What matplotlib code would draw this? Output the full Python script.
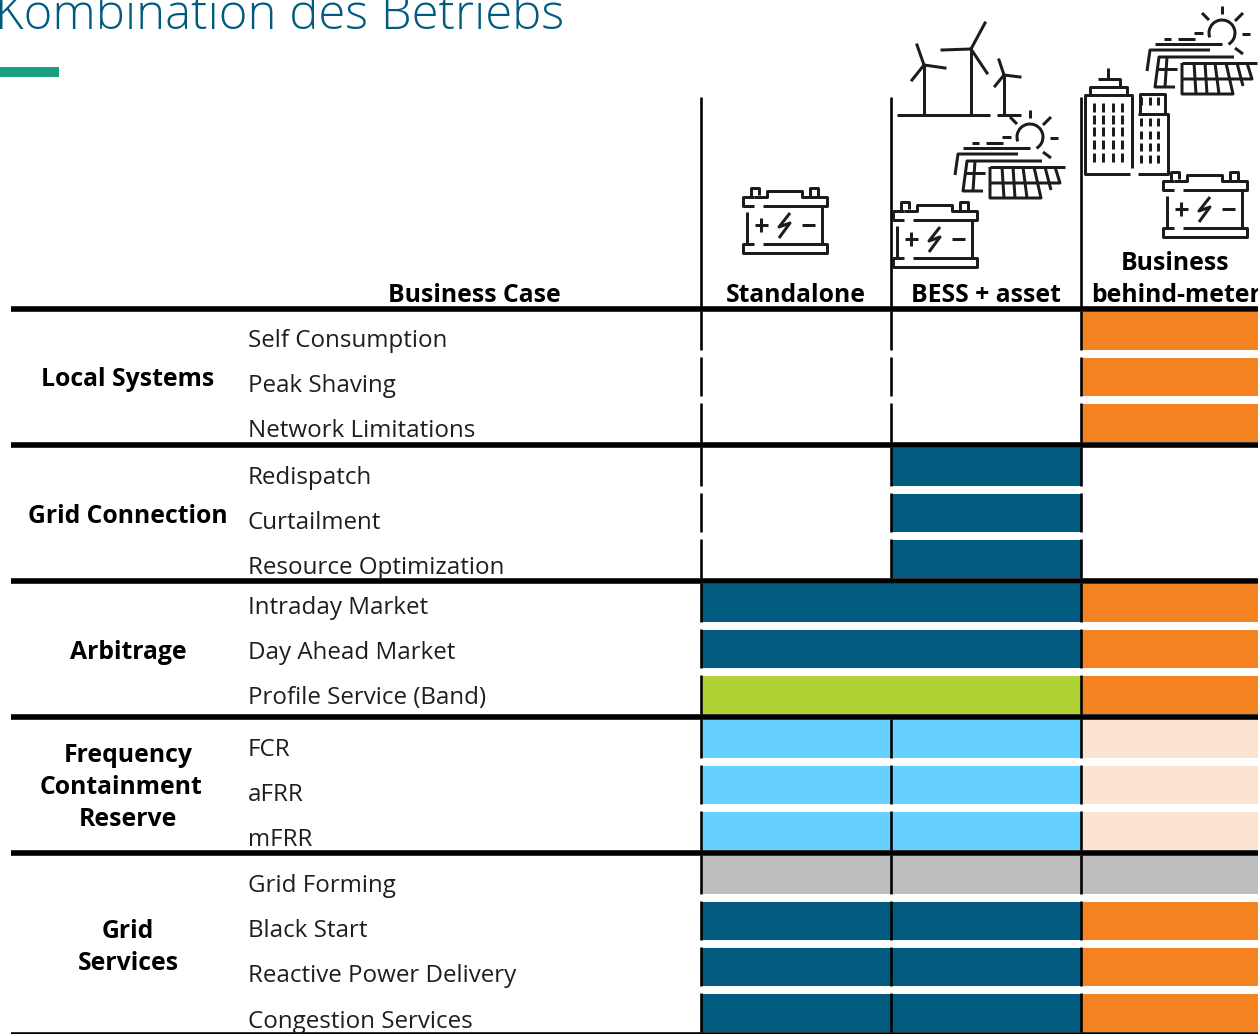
import matplotlib
matplotlib.use('Agg')
import matplotlib.pyplot as plt
from matplotlib.patches import Arc

plt.rcParams['font.family'] = ['Open Sans', 'Noto Sans', 'DejaVu Sans']

# Colores
BLUE = '#005b7f'
ORANGE = '#f58220'
GREEN = '#b1d235'
SKY = '#66d0ff'
PEACH = '#fde4d0'
GREY = '#bebebe'
NONE = None

# Datos de la tabla
columns = ['Standalone', 'BESS + asset']
last_column = ['Business', 'behind-meter']
groups = [['Local Systems'], ['Grid Connection'], ['Arbitrage'],
          ['Frequency', 'Containment', 'Reserve'], ['Grid', 'Services']]
group_rows = [
    ['Self Consumption', 'Peak Shaving', 'Network Limitations'],
    ['Redispatch', 'Curtailment', 'Resource Optimization'],
    ['Intraday Market', 'Day Ahead Market', 'Profile Service (Band)'],
    ['FCR', 'aFRR', 'mFRR'],
    ['Grid Forming', 'Black Start', 'Reactive Power Delivery', 'Congestion Services'],
]
group_colors = [
    [[NONE, NONE, ORANGE]] * 3,
    [[NONE, BLUE, NONE]] * 3,
    [[BLUE, BLUE, ORANGE], [BLUE, BLUE, ORANGE], [GREEN, GREEN, ORANGE]],
    [[SKY, SKY, PEACH]] * 3,
    [[GREY, GREY, GREY], [BLUE, BLUE, ORANGE], [BLUE, BLUE, ORANGE], [BLUE, BLUE, ORANGE]],
]
merged_group = 2

W, H = 1258, 1034
fig = plt.figure(figsize=(W / 100, H / 100), dpi=100)
ax = fig.add_axes([0, 0, 1, 1])
ax.set_xlim(0, W)
ax.set_ylim(H, 0)
ax.axis('off')

col_x = [701, 891, 1081, 1270]
lw_px = 72 / 100  # puntos por pixel
BLACK = '#000000'
ICON = '#1c1c1c'
FS_LABEL = 17.4
FS_BOLD = 17.8
ICON_LW = 3.0

# Posiciones de los textos
label_first_y = [347, 484, 613.5, 756, 892]
label_step = 45.2
group_first_y = [386, 523, 659, 762, 938]
group_step = 32
group_line_x = {'Containment': 121}


def icon_line(x0, y0, pts):
    xs = [x0 + p[0] for p in pts]
    ys = [y0 + p[1] for p in pts]
    ax.plot(xs, ys, color=ICON, lw=ICON_LW * lw_px, solid_capstyle='butt', zorder=5, clip_on=False)


def battery(x0, y0):
    icon_line(x0, y0, [(12, 10), (1, 10), (1, 19), (12, 19)])
    icon_line(x0, y0, [(12, 10), (25, 10), (25, 4), (60, 4), (60, 10), (85, 10), (85, 19), (21, 19)])
    icon_line(x0, y0, [(9, 10), (9, 1), (17, 1), (17, 8)])
    icon_line(x0, y0, [(68, 10), (68, 1), (76, 1), (76, 10)])
    icon_line(x0, y0, [(5, 25), (5, 58)])
    icon_line(x0, y0, [(80, 19), (80, 57)])
    icon_line(x0, y0, [(12, 57), (1, 57), (1, 66), (85, 66), (85, 57), (21, 57)])
    icon_line(x0, y0, [(12.5, 38), (25.5, 38)])
    icon_line(x0, y0, [(19, 31), (19, 45)])
    icon_line(x0, y0, [(60, 38), (73, 38)])
    icon_line(x0, y0, [(48, 26), (37, 40), (48, 36), (37, 51)])


def sun_panels(x0, y0):
    # sol
    ax.add_patch(Arc((x0 + 75, y0 + 27), 26, 26, theta1=160, theta2=60, color=ICON,
                     lw=ICON_LW * lw_px, zorder=5))
    for p in [[(75, 0), (75, 8)], [(55, 7), (62, 14)], [(88, 15), (96, 7)],
              [(95, 28), (103, 28)], [(88, 42), (96, 48)]]:
        icon_line(x0, y0, p)
    # lineas del panel
    icon_line(x0, y0, [(17, 33), (24, 33)])
    icon_line(x0, y0, [(31, 33), (48, 33)])
    icon_line(x0, y0, [(47, 27), (56, 27)])
    icon_line(x0, y0, [(8, 38), (75, 38)])
    icon_line(x0, y0, [(0, 65), (3, 44), (63, 44)])
    icon_line(x0, y0, [(28, 81), (8, 81), (12, 51), (87, 51)])
    icon_line(x0, y0, [(35, 57), (110, 57)])
    icon_line(x0, y0, [(10, 63), (30, 63)])
    icon_line(x0, y0, [(20, 51), (18, 81)])
    icon_line(x0, y0, [(35, 57), (35, 88), (86, 88), (79, 57)])
    icon_line(x0, y0, [(35, 73), (105, 73), (100, 57)])
    for a, b in [(47, 49), (58, 60), (68, 72)]:
        icon_line(x0, y0, [(a, 57), (b, 88)])
    icon_line(x0, y0, [(90, 57), (96, 80)])


def turbine(xb, yb, hub_y, blades):
    ax.plot([xb, xb], [yb, hub_y], color=ICON, lw=ICON_LW * lw_px, zorder=5)
    for dx, dy in blades:
        ax.plot([xb, xb + dx], [hub_y, hub_y + dy], color=ICON, lw=ICON_LW * lw_px, zorder=5)


def building(x0, y0):
    icon_line(x0, y0, [(48, 100), (48, 27), (1, 27), (1, 106), (46, 106)])
    icon_line(x0, y0, [(6, 27), (6, 19), (43, 19), (43, 27)])
    icon_line(x0, y0, [(14, 11), (36, 11), (36, 19)])
    icon_line(x0, y0, [(24, 0), (24, 11)])
    icon_line(x0, y0, [(54, 106), (84, 106), (84, 46), (54, 46)])
    icon_line(x0, y0, [(56, 46), (56, 26), (81, 26), (81, 46)])
    for cx in [10, 19, 29, 38]:
        for cy in [35, 47, 59, 72, 85]:
            icon_line(x0, y0, [(cx, cy), (cx, cy + 9)])
    for cx in [57, 66, 74]:
        for cy in [29, 50, 63, 75, 87]:
            icon_line(x0, y0, [(cx, cy), (cx, cy + 8)])


# Filas
y = 312
row_h = 38
gap = 8
sep = 6
for gi, (g, rows, colors) in enumerate(zip(groups, group_rows, group_colors)):
    for ri, (name, cols) in enumerate(zip(rows, colors)):
        for c, color in enumerate(cols):
            if color is not None:
                ax.barh(y + row_h / 2, col_x[c + 1] - col_x[c], height=row_h, left=col_x[c],
                        color=color, linewidth=0, zorder=2)
        for c in range(3):
            if gi == merged_group and c == 1:
                continue
            ax.plot([col_x[c], col_x[c]], [y - 1, y + row_h], color=BLACK, lw=2.6 * lw_px,
                    solid_capstyle='butt', zorder=3)
        ax.text(247.5, label_first_y[gi] + ri * label_step, name, fontsize=FS_LABEL, color='#1e1e1e',
                ha='left', va='baseline', zorder=6)
        y += row_h + gap
    bottom = y - gap
    for li, line in enumerate(g):
        ax.text(group_line_x.get(line, 128), group_first_y[gi] + li * group_step, line, fontsize=FS_BOLD,
                fontweight='bold', ha='center', va='baseline', color=BLACK, zorder=6)
    ax.plot([11, W], [bottom + 2.8, bottom + 2.8], color=BLACK, lw=5.6 * lw_px, solid_capstyle='butt', zorder=4)
    y = bottom + sep

# Cabecera
ax.plot([11, W], [308.8, 308.8], color=BLACK, lw=5.6 * lw_px, solid_capstyle='butt', zorder=4)
for x in col_x[:3]:
    ax.plot([x, x], [97, 309], color=BLACK, lw=2.6 * lw_px, solid_capstyle='butt', zorder=3)
ax.text(474, 302, 'Business Case', fontsize=FS_BOLD, fontweight='bold', ha='center', va='baseline', color=BLACK)
ax.text(796, 302, columns[0], fontsize=FS_BOLD, fontweight='bold', ha='center', va='baseline', color=BLACK)
ax.text(986, 302, columns[1], fontsize=FS_BOLD, fontweight='bold', ha='center', va='baseline', color=BLACK)
ax.text(1175, 270, last_column[0], fontsize=FS_BOLD, fontweight='bold', ha='center', va='baseline', color=BLACK)
ax.text(1091, 302, last_column[1], fontsize=FS_BOLD, fontweight='bold', ha='left', va='baseline', color=BLACK)

# Titulo
ax.text(-5, 29, 'Kombination des Betriebs', fontsize=35.3, color=BLUE, ha='left', va='baseline', fontweight='light')
ax.barh(72, 59, height=10, left=0, color='#1a9e7e', linewidth=0)

# Iconos
battery(742, 187)
battery(892, 201)
battery(1162, 171)
sun_panels(955, 110)
sun_panels(1147, 6)
turbine(924, 115, 65, [(-7, -20), (21, 3), (-12, 15)])
turbine(971, 115, 49, [(14, -26), (-29, 1), (16, 24)])
turbine(1004, 115, 75, [(-5, -15), (16, 2), (-9, 11)])
ax.plot([897, 990], [115, 115], color=ICON, lw=ICON_LW * lw_px, zorder=5, solid_capstyle='butt')
ax.plot([997, 1021], [115, 115], color=ICON, lw=ICON_LW * lw_px, zorder=5, solid_capstyle='butt')
building(1084, 68)

fig.savefig('out.png', dpi=100, facecolor='white')
